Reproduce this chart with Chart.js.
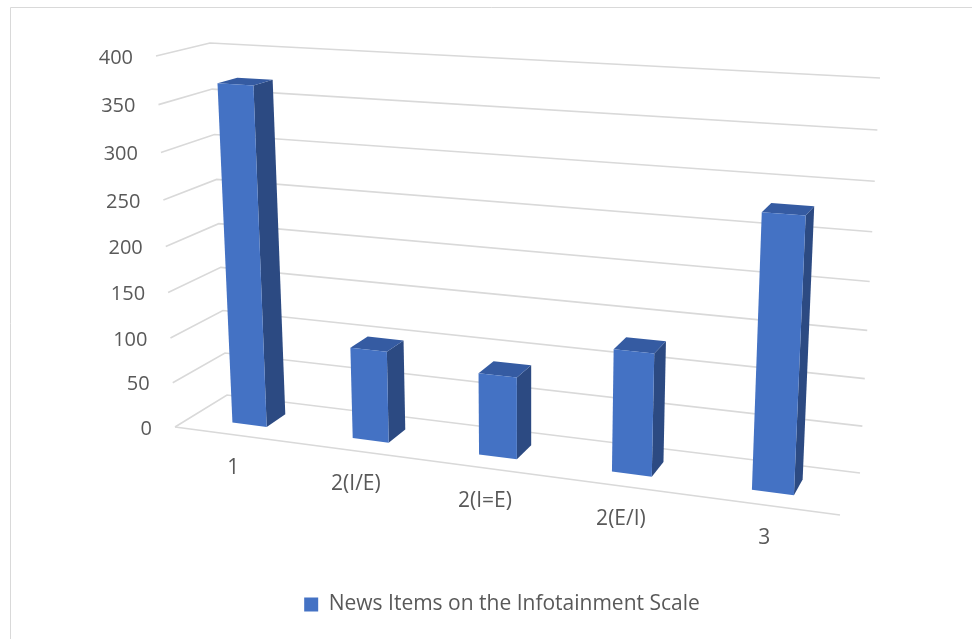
<!DOCTYPE html>
<html>
<head>
<meta charset="utf-8">
<script src="https://cdn.jsdelivr.net/npm/chart.js@4.4.1/dist/chart.umd.min.js"></script>
<style>
  html, body { margin: 0; padding: 0; background: #fff; }
  #wrap { width: 972px; height: 639px; position: relative; }
</style>
</head>
<body>
<div id="wrap"><canvas id="chart"></canvas></div>
<script>
const categories = ['1', '2(I/E)', '2(I=E)', '2(E/I)', '3'];
const newsItems = [370, 100, 88, 129, 279];
const valueTicks = [0, 50, 100, 150, 200, 250, 300, 350, 400];
const seriesName = 'News Items on the Infotainment Scale';

// screen corners of the 3d box: bottom-left, bottom-right, top-right, top-left
const frontPlane = [[175, 427], [840, 515], [861, 95], [156, 56]];
const backPlane = [[227, 395], [860, 473], [880, 78], [210, 43]];
const barDepth = [0.31, 0.69];

const FONT = '"Open Sans", sans-serif';
const TEXT = '#595959';
const GRID = '#d9d9d9';

// square -> quad projective map (Heckbert)
const quadMap = (q) => {
    const [[x0, y0], [x1, y1], [x2, y2], [x3, y3]] = q;
    const sx = x0 - x1 + x2 - x3, sy = y0 - y1 + y2 - y3;
    const dx1 = x1 - x2, dx2 = x3 - x2, dy1 = y1 - y2, dy2 = y3 - y2;
    const det = dx1 * dy2 - dx2 * dy1;
    const g = (sx * dy2 - dx2 * sy) / det;
    const h = (dx1 * sy - sx * dy1) / det;
    const a = x1 - x0 + g * x1, b = x3 - x0 + h * x3;
    const d = y1 - y0 + g * y1, e = y3 - y0 + h * y3;
    return (u, v) => {
        const w = g * u + h * v + 1;
        return [(a * u + b * v + x0) / w, (d * u + e * v + y0) / w];
    };
};
const front = quadMap(frontPlane);
const back = quadMap(backPlane);
const project = (u, v, z) => {
    const f = front(u, v), b = back(u, v);
    return [f[0] + (b[0] - f[0]) * z, f[1] + (b[1] - f[1]) * z];
};

const poly = (ctx, pts, color) => {
    ctx.beginPath();
    ctx.moveTo(pts[0][0], pts[0][1]);
    pts.slice(1).forEach(p => ctx.lineTo(p[0], p[1]));
    ctx.closePath();
    ctx.fillStyle = color;
    ctx.fill();
};

const perspectivePlugin = {
    id: 'perspective',
    beforeDatasetsDraw() {
        return false; // bars are drawn in 3d below
    },
    afterDraw(chart) {
        const { ctx, chartArea: area, scales: { x, y } } = chart;
        const uOf = (px) => (px - area.left) / area.width;
        const vOf = (val) => (area.bottom - y.getPixelForValue(val)) / area.height;
        ctx.save();

        // outer frame
        ctx.strokeStyle = GRID;
        ctx.lineWidth = 1;
        ctx.beginPath();
        ctx.moveTo(10.5, 639);
        ctx.lineTo(10.5, 7.5);
        ctx.lineTo(972, 7.5);
        ctx.stroke();

        // gridlines on the side and back walls
        ctx.lineWidth = 1.6;
        valueTicks.forEach(t => {
            const v = vOf(t);
            const a = front(0, v), b = back(0, v), c = back(1, v);
            ctx.beginPath();
            ctx.moveTo(a[0], a[1]);
            ctx.lineTo(b[0], b[1]);
            ctx.lineTo(c[0], c[1]);
            ctx.stroke();
        });
        const f0 = front(0, 0), f1 = front(1, 0);
        ctx.beginPath();
        ctx.moveTo(f0[0], f0[1]);
        ctx.lineTo(f1[0], f1[1]);
        ctx.stroke();

        // value labels
        ctx.font = '20px ' + FONT;
        ctx.fillStyle = TEXT;
        ctx.textAlign = 'right';
        ctx.textBaseline = 'middle';
        valueTicks.forEach(t => {
            const p = front(0, vOf(t));
            ctx.fillText(String(t), p[0] - 23, p[1] + 2);
        });

        // bars
        const meta = chart.getDatasetMeta(0);
        meta.data.forEach((bar, i) => {
            const uc = uOf(bar.x);
            const hw = bar.width / area.width / 2;
            const u0 = uc - hw, u1 = uc + hw;
            const v1 = vOf(newsItems[i]);
            const [z0, z1] = barDepth;
            const P = (u, v, z) => project(u, v, z);
            poly(ctx, [P(u1, 0, z0), P(u1, 0, z1), P(u1, v1, z1), P(u1, v1, z0)], '#2c4a82');
            poly(ctx, [P(u0, v1, z0), P(u1, v1, z0), P(u1, v1, z1), P(u0, v1, z1)], '#355ba2');
            poly(ctx, [P(u0, 0, z0), P(u1, 0, z0), P(u1, v1, z0), P(u0, v1, z0)], '#4472c4');
        });

        // category labels
        ctx.font = '21px ' + FONT;
        ctx.fillStyle = TEXT;
        ctx.textAlign = 'center';
        categories.forEach((c, i) => {
            const p = front(uOf(x.getPixelForValue(i)), 0);
            ctx.fillText(c, p[0] - 1, p[1] + 33);
        });
        ctx.restore();
    }
};

new Chart(document.getElementById('chart'), {
    type: 'bar',
    data: {
        labels: categories,
        datasets: [{
            label: seriesName,
            data: newsItems,
            backgroundColor: '#4472c4',
            barPercentage: 0.29,
            categoryPercentage: 1
        }]
    },
    options: {
        responsive: true,
        maintainAspectRatio: false,
        animation: false,
        events: [],
        layout: { padding: { left: 32, right: 0, top: 0, bottom: 14 } },
        scales: {
            x: { display: false },
            y: { display: false, min: 0, max: 400, ticks: { stepSize: 50 } }
        },
        plugins: {
            tooltip: { enabled: false },
            legend: {
                position: 'bottom',
                labels: {
                    color: TEXT,
                    font: { family: FONT, size: 21 },
                    boxWidth: 14,
                    boxHeight: 14,
                    padding: 10
                }
            }
        }
    },
    plugins: [perspectivePlugin]
});
</script>
</body>
</html>
